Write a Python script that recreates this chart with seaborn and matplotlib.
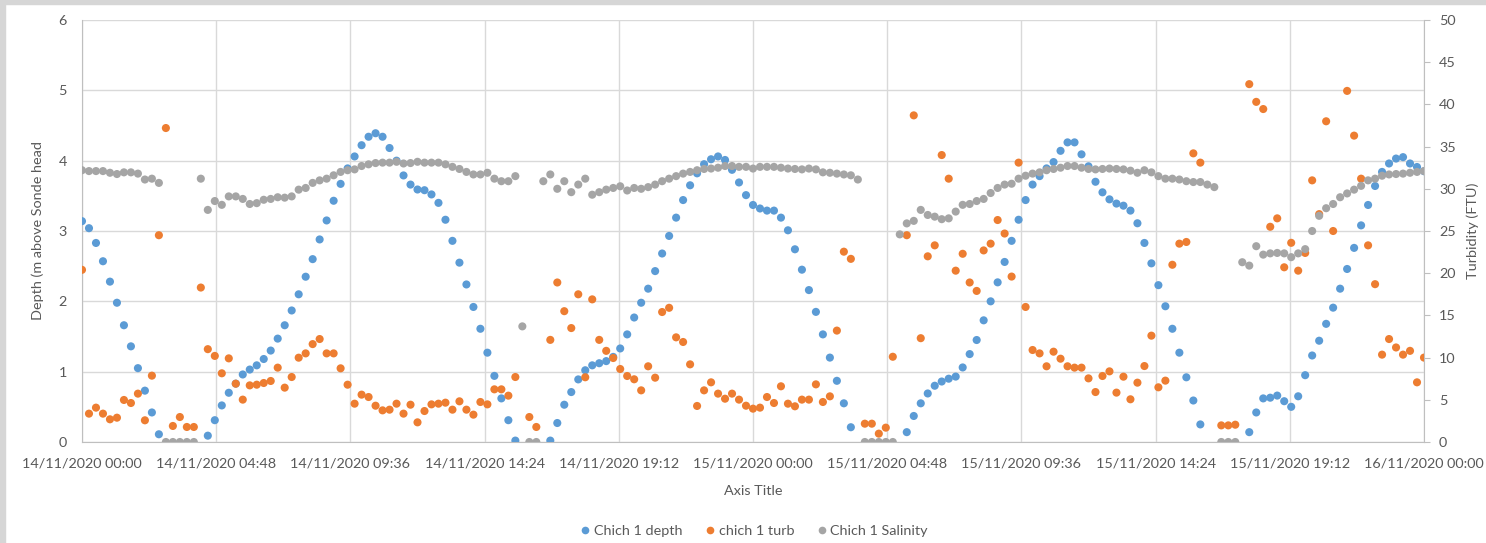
import numpy as np
import pandas as pd
import matplotlib
matplotlib.use("Agg")
import matplotlib.pyplot as plt
import matplotlib.dates as mdates
from matplotlib.patches import Rectangle
from matplotlib.lines import Line2D
import seaborn as sns

nan = np.nan

# Sonde readings every 15 minutes from 14/11/2020 00:00 to 16/11/2020 00:00
start = "2020-11-14 00:00"
n_samples = 193

depth_m = [
    3.14, 3.04, 2.83, 2.57, 2.28, 1.98, 1.66, 1.36, 1.05, 0.73, 0.42, 0.11,
    nan, nan, nan, nan, nan, nan,
    0.09, 0.31, 0.52, 0.70, 0.83, 0.96, 1.03, 1.09, 1.18, 1.30, 1.47, 1.66,
    1.87, 2.10, 2.35, 2.60, 2.88, 3.15, 3.43, 3.67, 3.89, 4.06, 4.22, 4.34,
    4.39, 4.34, 4.18, 4.00, 3.79, 3.66, 3.59, 3.58, 3.52, 3.40, 3.16, 2.86,
    2.55, 2.24, 1.92, 1.61, 1.27, 0.94, 0.62, 0.31, 0.02,
    nan, nan, nan, nan,
    0.02, 0.27, 0.53, 0.71, 0.89, 1.02, 1.09, 1.12, 1.15, 1.21, 1.33, 1.53,
    1.77, 1.98, 2.18, 2.43, 2.68, 2.93, 3.19, 3.44, 3.65, 3.82, 3.95, 4.02,
    4.06, 4.01, 3.87, 3.69, 3.51, 3.37, 3.32, 3.29, 3.29, 3.19, 3.01, 2.74,
    2.45, 2.16, 1.85, 1.53, 1.20, 0.87, 0.55, 0.21,
    nan, nan, nan, nan, nan, nan, nan,
    0.14, 0.37, 0.55, 0.69, 0.80, 0.86, 0.90, 0.93, 1.06, 1.25, 1.45, 1.73,
    2.00, 2.27, 2.56, 2.86, 3.16, 3.44, 3.66, 3.78, 3.89, 3.98, 4.14, 4.26,
    4.26, 4.09, 3.92, 3.70, 3.55, 3.45, 3.39, 3.36, 3.29, 3.11, 2.83, 2.54,
    2.23, 1.93, 1.61, 1.27, 0.92, 0.59, 0.25,
    nan, nan, nan, nan, nan, nan,
    0.14, 0.42, 0.62, 0.63, 0.66, 0.58, 0.50, 0.65, 0.95, 1.23, 1.44, 1.68,
    1.91, 2.18, 2.46, 2.76, 3.08, 3.37, 3.64, 3.84, 3.96, 4.03, 4.05, 3.96,
    3.91, 3.85,
]

turbidity_ftu = [
    20.4, 3.36, 4.07, 3.36, 2.69, 2.88, 4.98, 4.62, 5.73, 2.57, 7.86, 24.5,
    37.2, 1.90, 2.96, 1.78, 1.78, 18.3, 11.0, 10.2, 8.14, 9.91, 6.91, 5.02,
    6.71, 6.79, 6.99, 7.23, 8.81, 6.44, 7.70, 9.99, 10.5, 11.6, 12.2, 10.5,
    10.5, 8.73, 6.79, 4.54, 5.61, 5.33, 4.30, 3.75, 3.83, 4.54, 3.36, 4.42,
    2.33, 3.67, 4.46, 4.54, 4.66, 3.83, 4.82, 3.83, 3.24, 4.74, 4.46, 6.24,
    6.24, 5.49, 7.70, nan, 2.96, 1.78, nan, 12.1, 18.9, 15.5, 13.5, 17.5,
    7.67, 16.9, 12.1, 10.8, 9.95, 8.65, 7.82, 7.43, 6.12, 8.97, 7.62, 15.4,
    15.9, 12.4, 11.85, 9.2, 4.27, 6.12, 7.07, 5.73, 5.13, 5.73, 5.02, 4.30,
    3.95, 4.07, 5.33, 4.62, 6.60, 4.54, 4.23, 5.02, 5.02, 6.83, 4.74, 5.41,
    13.2, 22.55, 21.7, nan, 2.17, 2.17, 0.99, 1.70, 10.1, nan, 24.5, 38.7,
    12.3, 22.0, 23.3, 34.0, 31.2, 20.3, 22.3, 18.9, 17.9, 22.7, 23.5, 26.3,
    24.7, 19.6, 33.1, 16.0, 10.9, 10.5, 8.97, 10.7, 9.87, 8.97, 8.81, 8.81,
    7.54, 5.92, 7.82, 8.37, 5.85, 7.74, 5.06, 7.03, 9.0, 12.6, 6.48, 7.27,
    21.0, 23.5, 23.7, 34.2, 33.1, nan, nan, 1.97, 1.97, 2.05, nan, 42.4,
    40.3, 39.45, 25.5, 26.5, 20.7, 23.6, 20.3, 22.4, 31.0, 27.0, 38.0, 25.0,
    nan, 41.6, 36.3, 31.2, 23.3, 18.7, 10.35, 12.2, 11.2, 10.35, 10.8, 7.07,
    10.0,
]

salinity = [
    32.2, 32.1, 32.1, 32.1, 31.9, 31.75, 31.95, 31.95, 31.8, 31.1, 31.2, 30.7,
    0, 0, 0, 0, 0, 31.2, 27.5, 28.55, 28.1, 29.1, 29.1, 28.8,
    28.2, 28.3, 28.7, 28.8, 29.0, 28.95, 29.1, 29.9, 30.1, 30.7, 31.0, 31.2,
    31.6, 32.0, 32.2, 32.3, 32.7, 32.9, 33.05, 33.1, 33.1, 33.2, 33.0, 33.05,
    33.2, 33.1, 33.1, 33.1, 32.9, 32.6, 32.35, 32.0, 31.7, 31.7, 31.9, 31.2,
    30.9, 30.9, 31.5, 13.7, 0, 0, 30.9, 31.7, 30.0, 30.9, 29.6, 30.5,
    31.2, 29.3, 29.6, 29.9, 30.1, 30.3, 29.8, 30.1, 30.0, 30.2, 30.5, 30.9,
    31.2, 31.5, 31.8, 32.0, 32.2, 32.35, 32.4, 32.5, 32.7, 32.7, 32.6, 32.6,
    32.4, 32.6, 32.6, 32.6, 32.5, 32.4, 32.35, 32.3, 32.4, 32.3, 31.95, 31.9,
    31.8, 31.7, 31.6, 31.1, 0, 0, 0, 0, 0, 24.6, 25.9, 26.2,
    27.5, 26.9, 26.7, 26.4, 26.5, 27.3, 28.1, 28.2, 28.55, 28.8, 29.5, 30.1,
    30.5, 30.6, 31.2, 31.55, 31.8, 31.95, 32.2, 32.35, 32.5, 32.7, 32.7, 32.5,
    32.35, 32.3, 32.35, 32.4, 32.35, 32.3, 32.15, 31.9, 32.2, 31.95, 31.5, 31.2,
    31.2, 31.1, 30.9, 30.8, 30.8, 30.5, 30.2, 0, 0, 0, 21.3, 20.9,
    23.2, 22.2, 22.35, 22.4, 22.35, 21.9, 22.35, 22.85, 25.0, 26.8, 27.7, 28.2,
    29.0, 29.45, 29.9, 30.35, 31.0, 31.2, 31.55, 31.7, 31.75, 31.8, 31.9, 32.0,
    32.1,
]

series_names = ["Chich 1 depth", "chich 1 turb", "Chich 1 Salinity"]
series_colors = ["#5B9BD5", "#ED7D31", "#A5A5A5"]

x_start = "2020-11-14 00:00"
x_end = "2020-11-16 00:00"
x_step_minutes = 288  # 4.8 hours between date ticks

times = pd.date_range(start, periods=n_samples, freq="15min")
df = pd.DataFrame({"time": times, "depth": depth_m,
                   "turb": turbidity_ftu, "sal": salinity})

sns.set_style("white")
plt.rcParams["font.family"] = ["Lato", "DejaVu Sans"]
text_col = "#595959"
grid_col = "#d9d9d9"
axis_col = "#bfbfbf"
fs = 10.4

fig = plt.figure(figsize=(14.86, 5.43), dpi=100, facecolor="white")
# thin grey frame along the top and left edge
fig.patches.append(Rectangle((0, 0), 5 / 1486, 1, transform=fig.transFigure,
                             color="#d6d6d6", zorder=0))
fig.patches.append(Rectangle((0, 1 - 4 / 543), 1, 4 / 543, transform=fig.transFigure,
                             color="#d6d6d6", zorder=0))

ax = fig.add_axes([82 / 1486, (543 - 442) / 543, (1424 - 82) / 1486, (442 - 20) / 543])
ax2 = ax.twinx()

ms = 34
sns.scatterplot(data=df, x="time", y="depth", ax=ax, color=series_colors[0],
                s=ms, edgecolor="none", linewidth=0, legend=False, zorder=3)
sns.scatterplot(data=df, x="time", y="turb", ax=ax2, color=series_colors[1],
                s=ms, edgecolor="none", linewidth=0, legend=False, zorder=3)
sns.scatterplot(data=df, x="time", y="sal", ax=ax2, color=series_colors[2],
                s=ms, edgecolor="none", linewidth=0, legend=False, zorder=4)

t0 = pd.Timestamp(x_start)
t1 = pd.Timestamp(x_end)
ticks = [t0 + pd.Timedelta(minutes=x_step_minutes * k) for k in range(11)]
ax.set_xlim(t0, t1)
ax.set_xticks(ticks)
ax.set_xticklabels([t.strftime("%d/%m/%Y %H:%M") for t in ticks])

ax.set_ylim(0, 6)
ax.set_yticks(range(0, 7))
ax2.set_ylim(0, 50)
ax2.set_yticks(range(0, 51, 5))

ax.grid(True, color=grid_col, linewidth=1.0)
ax.set_axisbelow(True)
ax2.grid(False)

for a in (ax, ax2):
    for s in a.spines.values():
        s.set_visible(False)
ax.spines["bottom"].set_visible(True)
ax.spines["bottom"].set_color(axis_col)
ax.spines["left"].set_visible(True)
ax.spines["left"].set_color(axis_col)
ax2.spines["right"].set_visible(True)
ax2.spines["right"].set_color(axis_col)

ax.tick_params(axis="x", length=0, pad=11, labelsize=fs, labelcolor=text_col)
ax.tick_params(axis="y", length=0, pad=11, labelsize=fs, labelcolor=text_col)
ax2.tick_params(axis="y", length=4.3, width=0.8, color=axis_col, pad=6.5,
                labelsize=fs, labelcolor=text_col)

ax.set_xlabel("Axis Title", fontsize=fs, color=text_col, labelpad=11)
ax.set_ylabel("Depth (m above Sonde head", fontsize=fs, color=text_col, labelpad=10)
ax2.set_ylabel("Turbidity (FTU)", fontsize=fs, color=text_col, labelpad=8)

handles = [Line2D([], [], linestyle="none", marker="o", markersize=5.5,
                  markerfacecolor=c, markeredgecolor="none")
           for c in series_colors]
fig.legend(handles, series_names, loc="center", bbox_to_anchor=(753 / 1486, 1 - 531 / 543),
           ncol=3, frameon=False, fontsize=fs, labelcolor=text_col,
           handletextpad=0.1, columnspacing=1.4, handlelength=1.0)

fig.savefig("out.png", dpi=100, facecolor="white")
